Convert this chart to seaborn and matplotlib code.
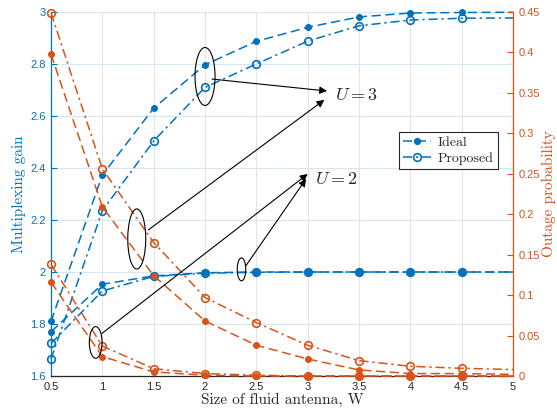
import matplotlib
matplotlib.use("Agg")
import matplotlib.pyplot as plt
from matplotlib.patches import Ellipse
from matplotlib.lines import Line2D
import seaborn as sns
import pandas as pd

# Antenna size W
antenna_size = [0.5, 1.0, 1.5, 2.0, 2.5, 3.0, 3.5, 4.0, 4.5, 5.0]

# Multiplexing gain (left axis)
gain_ideal_u3 = [1.81, 2.373, 2.63, 2.797, 2.887, 2.941, 2.981, 2.996, 2.998, 2.999]
gain_proposed_u3 = [1.665, 2.236, 2.504, 2.71, 2.80, 2.888, 2.947, 2.969, 2.976, 2.977]
gain_ideal_u2 = [1.77, 1.953, 1.985, 1.997, 2.0, 2.0, 2.0, 2.0, 2.0, 2.0]
gain_proposed_u2 = [1.725, 1.927, 1.983, 1.995, 1.999, 2.0, 2.0, 2.0, 2.0, 2.0]

# Outage probability (right axis)
outage_ideal_u3 = [0.398, 0.209, 0.124, 0.068, 0.038, 0.021, 0.0075, 0.003, 0.003, 0.002]
outage_proposed_u3 = [0.449, 0.256, 0.165, 0.097, 0.066, 0.038, 0.019, 0.012, 0.0095, 0.008]
outage_ideal_u2 = [0.116, 0.024, 0.005, 0.001, 0.0, 0.0, 0.0, 0.0, 0.0, 0.0]
outage_proposed_u2 = [0.138, 0.037, 0.009, 0.003, 0.001, 0.0, 0.0, 0.0, 0.0, 0.0]

gain_ticks = [1.6, 1.8, 2.0, 2.2, 2.4, 2.6, 2.8, 3.0]
gain_tick_labels = ["1.6", "1.8", "2", "2.2", "2.4", "2.6", "2.8", "3"]
outage_ticks = [0, 0.05, 0.1, 0.15, 0.2, 0.25, 0.3, 0.35, 0.4, 0.45]
outage_tick_labels = ["0", "0.05", "0.1", "0.15", "0.2", "0.25", "0.3", "0.35", "0.4", "0.45"]
x_ticks = [0.5, 1, 1.5, 2, 2.5, 3, 3.5, 4, 4.5, 5]
x_tick_labels = ["0.5", "1", "1.5", "2", "2.5", "3", "3.5", "4", "4.5", "5"]

sns.set_style("white")
plt.rcParams["font.family"] = ["Liberation Sans", "DejaVu Sans"]
plt.rcParams["mathtext.fontset"] = "cm"

BLUE = "#0072BD"
ORANGE = "#D95319"
DARK = "#262626"
SERIF = "cmr10"

DASHED = (0, (6, 3))
DASHDOT = (0, (6, 2.5, 1.5, 2.5))
MARKS = list(range(len(antenna_size) - 1))

fig = plt.figure(figsize=(5.57, 4.13), dpi=100)
ax = fig.add_axes([0.0916, 0.0896, 0.8295, 0.8814])
ax2 = ax.twinx()

df = pd.DataFrame({
    "W": antenna_size,
    "gi3": gain_ideal_u3, "gp3": gain_proposed_u3,
    "gi2": gain_ideal_u2, "gp2": gain_proposed_u2,
    "oi3": outage_ideal_u3, "op3": outage_proposed_u3,
    "oi2": outage_ideal_u2, "op2": outage_proposed_u2,
})

ideal_kw = dict(linestyle=DASHED, marker="o", markersize=4.2, markeredgewidth=0.8,
                linewidth=1.1, markevery=MARKS, clip_on=False)
prop_kw = dict(linestyle=DASHDOT, marker="o", markersize=5.5, markeredgewidth=1.2,
               markerfacecolor="none", linewidth=1.1, markevery=MARKS, clip_on=False)

for col in ["gi3", "gi2"]:
    sns.lineplot(data=df, x="W", y=col, ax=ax, color=BLUE,
                 markeredgecolor=BLUE, **ideal_kw)
for col in ["gp3", "gp2"]:
    sns.lineplot(data=df, x="W", y=col, ax=ax, color=BLUE,
                 markeredgecolor=BLUE, **prop_kw)
for col in ["oi3", "oi2"]:
    sns.lineplot(data=df, x="W", y=col, ax=ax2, color=ORANGE,
                 markeredgecolor=ORANGE, **ideal_kw)
for col in ["op3", "op2"]:
    sns.lineplot(data=df, x="W", y=col, ax=ax2, color=ORANGE,
                 markeredgecolor=ORANGE, **prop_kw)

ax.set_xlim(0.5, 5)
ax.set_ylim(1.6, 3)
ax2.set_ylim(0, 0.45)

ax.set_xticks(x_ticks)
ax.set_xticklabels(x_tick_labels)
ax.set_yticks(gain_ticks)
ax.set_yticklabels(gain_tick_labels)
ax2.set_yticks(outage_ticks)
ax2.set_yticklabels(outage_tick_labels)

ax.tick_params(axis="x", direction="in", length=4, width=0.8, colors=DARK,
               labelsize=8, pad=4, top=False)
ax.tick_params(axis="y", direction="in", length=4, width=0.8, colors=BLUE,
               labelsize=8, pad=4)
ax2.tick_params(axis="y", direction="in", length=4, width=0.8, colors=ORANGE,
                labelsize=8, pad=4)

# grid
ax.set_axisbelow(True)
ax.xaxis.grid(True, color="#E4E4E4", linewidth=0.8)
ax.yaxis.grid(True, color="#D8E6F2", linewidth=0.8)
ax2.grid(False)

for s in ["top", "right"]:
    ax.spines[s].set_visible(False)
for s in ["top", "left", "bottom"]:
    ax2.spines[s].set_visible(False)
ax.spines["left"].set_color(BLUE)
ax.spines["bottom"].set_color(DARK)
ax2.spines["right"].set_color(ORANGE)
for sp in [ax.spines["left"], ax.spines["bottom"], ax2.spines["right"]]:
    sp.set_linewidth(0.9)

ax.set_xlabel("Size of fluid antenna, W", family=SERIF, fontsize=11, color=DARK, labelpad=1)
ax.set_ylabel("Multiplexing gain", family=SERIF, fontsize=11, color=BLUE, labelpad=3)
ax2.set_ylabel("Outage probability", family=SERIF, fontsize=11, color=ORANGE,
               rotation=90, labelpad=1)

# legend
handles = [
    Line2D([], [], color=BLUE, linestyle=DASHED, linewidth=1.1, marker="o",
           markersize=4.2, markeredgecolor=BLUE),
    Line2D([], [], color=BLUE, linestyle=DASHDOT, linewidth=1.1, marker="o",
           markersize=5.5, markeredgewidth=1.2, markerfacecolor="none", markeredgecolor=BLUE),
]
leg = ax2.legend(handles, ["Ideal", "Proposed"], loc="upper left",
                 bbox_to_anchor=(0.753, 0.671), prop={"family": SERIF, "size": 10},
                 frameon=True, fancybox=False, edgecolor=DARK, framealpha=1,
                 handlelength=2.0, handletextpad=0.5, borderpad=0.3,
                 labelspacing=0.25, borderaxespad=0)
leg.get_frame().set_linewidth(0.8)

# ellipses marking curve groups
tr = ax.transData
for cx, cy, w, h in [(2.0, 2.752, 0.195, 0.223),
                     (1.335, 2.127, 0.175, 0.231),
                     (2.355, 2.010, 0.083, 0.088),
                     (0.935, 1.729, 0.124, 0.122)]:
    ax2.add_patch(Ellipse((cx, cy), w, h, transform=tr, fill=False,
                          edgecolor="black", linewidth=0.8, zorder=5))

arrow = dict(arrowstyle="-|>", color="black", lw=0.8, mutation_scale=11,
             shrinkA=0, shrinkB=0)
for (sx, sy), (tx, ty) in [((2.068, 2.742), (3.188, 2.696)),
                           ((1.448, 2.162), (3.162, 2.662)),
                           ((2.396, 2.023), (2.984, 2.358)),
                           ((0.997, 1.764), (3.0, 2.377))]:
    ax2.annotate("", xy=(tx, ty), xytext=(sx, sy), xycoords=tr, textcoords=tr,
                 arrowprops=arrow, zorder=6)

ax2.text(3.266, 2.677, r"$U=3$", transform=tr, fontsize=13, va="center", ha="left")
ax2.text(3.071, 2.354, r"$U=2$", transform=tr, fontsize=13, va="center", ha="left")

fig.savefig("out.png", dpi=100)
